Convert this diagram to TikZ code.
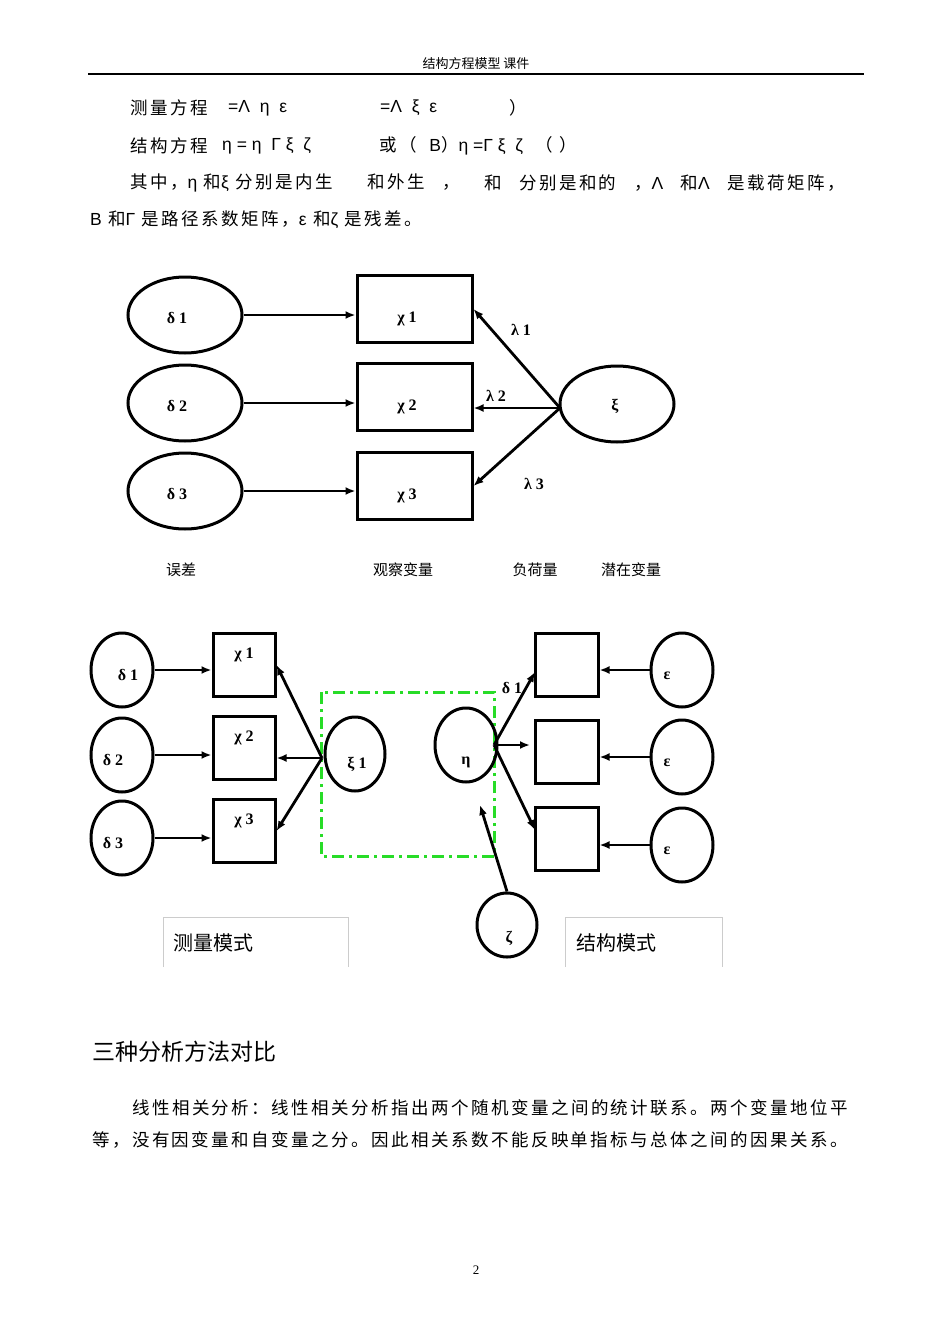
\documentclass[tikz,border=0pt]{standalone}
\usepackage{fontspec}
\usetikzlibrary{shapes.geometric,arrows.meta}
\setmainfont{Liberation Serif}
\newfontfamily\cjk{Noto Sans CJK SC}
\newfontfamily\cjks{Noto Sans CJK SC}[LetterSpace=14]
\newfontfamily\gk{Liberation Sans}
\definecolor{dgreen}{RGB}{40,220,40}
\begin{document}
\begin{tikzpicture}[x=1pt,y=-1pt,
  txt/.style={font=\cjks\fontsize{17.5}{17.5}\selectfont,inner sep=0,anchor=west},
  lab/.style={font=\bfseries\fontsize{16}{16}\selectfont},
  ell/.style={draw,line width=3pt,ellipse},
  bx/.style={draw,line width=3pt},
  arr/.style={-{Latex[length=10pt,width=8pt]},line width=2.8pt}]
\useasboundingbox[fill=white] (0,0) rectangle (950,1344);
% header
\node[font=\cjk\fontsize{13}{13}\selectfont] (hd) at (476,64) {结构方程模型 课件};
\draw[line width=1.2pt] (88,74) coordinate (r1) -- (864,74) coordinate (r2);
% text
\node[txt] (t1a) at (130,108) {测量方程};
\node[txt] (t1b) at (228,108) {\gk =Λ\ \ η\ \ ε};
\node[txt] (t1c) at (380,108) {\gk =Λ\ \ ξ\ \ ε};
\node[txt] (t1d) at (509,108) {）};
\node[txt] (t2a) at (130,146) {结构方程};
\node[txt] (t2b) at (222,146) {\gk η = η\ \ Γ ξ\ \ ζ};
\node[txt] (t2c) at (379,146) {或（\ \ {\gk B}）{\gk η =Γ ξ\ \ ζ}\ \ （ ）};
\node[txt] (t3a) at (130,183) {其中，{\gk η} 和{\gk ξ} 分别是内生\qquad 和外生\quad ，};
\node[txt] (t3b) at (484,183) {和\quad 分别是和的\quad ，{\gk Λ}\quad 和{\gk Λ}\quad 是载荷矩阵，};
\node[txt] (t4) at (90,220) {{\gk B} 和{\gk Γ} 是路径系数矩阵，{\gk ε} 和{\gk ζ} 是残差。};
% diagram 1
\foreach \i/\y in {1/315,2/403,3/491}{
  \node[ell,minimum width=114,minimum height=76] (d\i) at (185,\y) {};
  \node[lab] at (177,\y+3) {δ \i};
}
\foreach \i/\y in {1/309,2/397,3/486}{
  \node[bx,minimum width=115,minimum height=67] (x\i) at (414.5,\y) {};
  \node[lab] at (407,\y+10) {χ \i};
}
\foreach \i in {1,2,3}{\draw[arr] (d\i.east) -- (d\i.east -| x\i.west);}
\node[ell,minimum width=114,minimum height=76] (xi) at (617,404) {};
\node[lab] at (615,406) {ξ};
\coordinate (xp) at (560,408);
\draw[arr] (xp) -- (x1.east);
\draw[arr] (xp) -- (xp -| x2.east);
\draw[arr] (xp) -- (x3.east);
\node[lab] (l1) at (521,330) {λ 1};
\node[lab] (l2) at (496,396) {λ 2};
\node[lab] (l3) at (534,484) {λ 3};
\node[txt,anchor=center,font=\cjk\fontsize{15}{15}\selectfont] (b1) at (181,570) {误差};
\node[txt,anchor=center,font=\cjk\fontsize{15}{15}\selectfont] (b2) at (403,570) {观察变量};
\node[txt,anchor=center,font=\cjk\fontsize{15}{15}\selectfont] (b3) at (535,570) {负荷量};
\node[txt,anchor=center,font=\cjk\fontsize{15}{15}\selectfont] (b4) at (631,570) {潜在变量};
% diagram 2
\draw[dgreen,line width=3pt,dash pattern=on 12pt off 5pt on 3pt off 5pt] (321,692) rectangle (494,856);
\foreach \i/\y/\lx in {1/670/128,2/755/113,3/838/113}{
  \node[ell,minimum width=62,minimum height=74] (e\i) at (122,\y) {};
  \node[lab] at (\lx,\y+5) {δ \i};
}
\foreach \i/\y in {1/665,2/748,3/831}{
  \node[bx,minimum width=62,minimum height=63] (y\i) at (244,\y) {};
  \node[lab] at (244,\y-10) {χ \i};
  \draw[arr] (e\i.east) -- (e\i.east -| y\i.west);
}
\node[ell,minimum width=60,minimum height=74] (xi1) at (355,754) {};
\node[lab] at (357,764) {ξ 1};
\coordinate (xq) at (322,758);
\draw[arr] (xq) -- (y1.east);
\draw[arr] (xq) -- (xq -| y2.east);
\draw[arr] (xq) -- (y3.east);
\node[ell,minimum width=62,minimum height=74] (eta) at (466,745) {};
\node[lab] at (466,762) {η};
\foreach \i/\y in {1/665,2/752,3/839}{
  \node[bx,minimum width=63,minimum height=63] (z\i) at (566.5,\y) {};
}
\foreach \i/\y in {1/670,2/757,3/845}{
  \node[ell,minimum width=62,minimum height=74] (ep\i) at (682,\y) {};
  \node[lab] at (667,\y+6) {ε};
  \draw[arr] (ep\i.west) -- (ep\i.west -| z\i.east);
}
\coordinate (ep) at (494,745);
\draw[arr] (ep) -- (535,672);
\draw[arr] (ep) -- (530,745);
\draw[arr] (ep) -- (535,830);
\node[lab] (dd) at (512,688) {δ 1};
\node[ell,minimum width=60,minimum height=64] (ze) at (507,925) {};
\node[lab] at (509,938) {ζ};
\draw[arr] (ze.north) -- (480,805);
\draw[black!20,line width=0.8pt] (163,967) -- (163,917) -- (348,917) -- (348,967);
\draw[black!20,line width=0.8pt] (565,967) -- (565,917) -- (722,917) -- (722,967);
\node[txt,font=\cjk\fontsize{20}{20}\selectfont] (m1) at (173,943) {测量模式};
\node[txt,font=\cjk\fontsize{20}{20}\selectfont] (m2) at (576,943) {结构模式};
% bottom text
\node[txt,font=\cjk\fontsize{23}{23}\selectfont] (h2) at (92,1052) {三种分析方法对比};
\node[txt] (p1) at (132,1108) {线性相关分析：线性相关分析指出两个随机变量之间的统计联系。两个变量地位平};
\node[txt] (p2) at (92,1140) {等，没有因变量和自变量之分。因此相关系数不能反映单指标与总体之间的因果关系。};
\node[font=\fontsize{13}{13}\selectfont] (pg) at (476,1270) {2};
\end{tikzpicture}
\end{document}
